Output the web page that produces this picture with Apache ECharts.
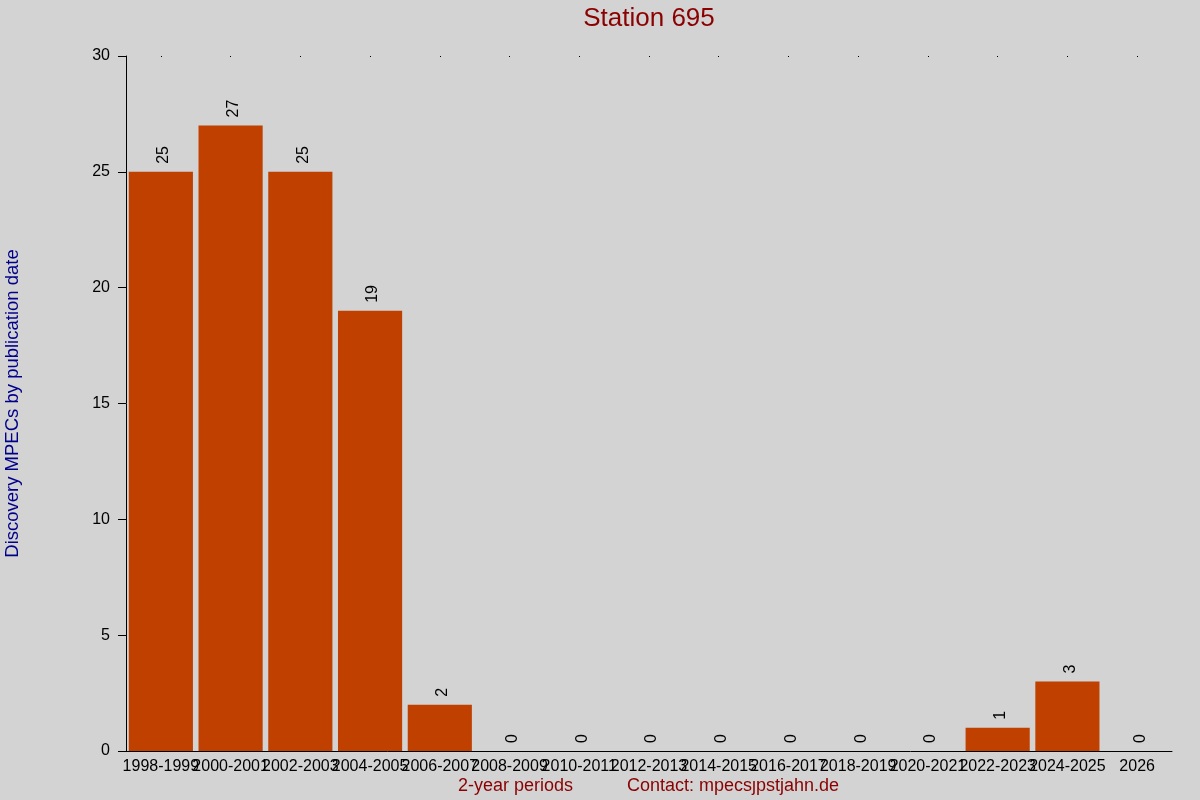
<!DOCTYPE html>
<html>
<head>
<meta charset="utf-8">
<script src="https://cdn.jsdelivr.net/npm/echarts@6/dist/echarts.min.js"></script>
<style>
  html, body { margin: 0; padding: 0; background: #d3d3d3; }
  #chart { width: 1200px; height: 800px; }
</style>
</head>
<body>
<div id="chart"></div>
<script>
// data
const periods = ['1998-1999', '2000-2001', '2002-2003', '2004-2005', '2006-2007',
  '2008-2009', '2010-2011', '2012-2013', '2014-2015', '2016-2017',
  '2018-2019', '2020-2021', '2022-2023', '2024-2025', '2026'];
const mpecCounts = [25, 27, 25, 19, 2, 0, 0, 0, 0, 0, 0, 0, 1, 3, 0];
const yTicks = [0, 5, 10, 15, 20, 25, 30];

const chart = echarts.init(document.getElementById('chart'));
const font = 'Liberation Sans, Arial, sans-serif';

const option = {
  backgroundColor: '#d3d3d3',
  animation: false,
  textStyle: { fontFamily: font },
  grid: { left: 126, right: 28, top: 56, bottom: 49, outerBoundsMode: 'none', containLabel: false },
  xAxis: [{
    type: 'category',
    data: periods,
    axisLine: { lineStyle: { color: '#000', width: 1 } },
    axisTick: { show: false },
    axisLabel: { interval: 0, color: '#000', fontSize: 16, margin: 8, fontFamily: font }
  }, {
    type: 'category',
    data: periods,
    position: 'top',
    axisLine: { show: false },
    axisTick: { show: true, interval: 0, alignWithLabel: true, length: 1, inside: true, lineStyle: { color: '#000' } },
    axisLabel: { show: false }
  }],
  yAxis: {
    type: 'value',
    min: yTicks[0],
    max: yTicks[yTicks.length - 1],
    interval: 5,
    splitLine: { show: false },
    axisLine: { show: true, lineStyle: { color: '#000' } },
    axisTick: { show: true, length: 8, lineStyle: { color: '#000' } },
    axisLabel: { color: '#000', fontSize: 16, margin: 16, fontFamily: font },
    name: 'Discovery MPECs by publication date',
    nameLocation: 'middle',
    nameGap: 104,
    nameTextStyle: { color: '#00008b', fontSize: 18.5, fontFamily: font }
  },
  series: [{
    type: 'bar',
    data: mpecCounts,
    barCategoryGap: '8%',
    itemStyle: { color: '#c04000' },
    label: {
      show: true,
      position: 'top',
      rotate: 90,
      align: 'left',
      verticalAlign: 'middle',
      distance: 6,
      offset: [2, 3],
      color: '#000',
      fontSize: 16,
      fontFamily: font
    }
  }],
  graphic: [{
    type: 'text',
    x: 649,
    y: 6,
    style: { text: 'Station 695', fill: '#8b0000', fontSize: 26, fontFamily: font, textAlign: 'center' }
  }, {
    type: 'text',
    left: 458,
    top: 777,
    style: { text: '2-year periods', fill: '#8b0000', fontSize: 18, fontFamily: font }
  }, {
    type: 'text',
    left: 627,
    top: 777,
    style: { text: 'Contact: mpecs\u0237pstjahn.de', fill: '#8b0000', fontSize: 18, fontFamily: font }
  }]
};

chart.setOption(option);
</script>
</body>
</html>
